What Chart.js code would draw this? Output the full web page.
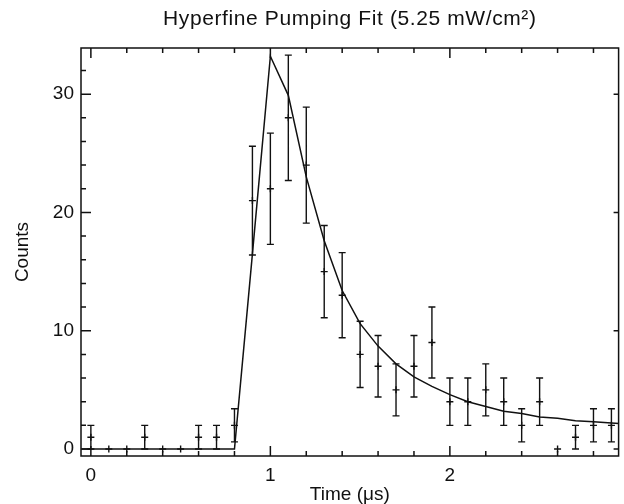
<!DOCTYPE html>
<html>
<head>
<meta charset="utf-8">
<script src="https://cdn.jsdelivr.net/npm/chart.js@4.4.0/dist/chart.umd.min.js"></script>
<style>
    body { margin: 0; background: #ffffff; }
    #caixa { width: 624px; height: 504px; }
</style>
</head>
<body>
<div id="caixa"><canvas id="graficoFit" width="624" height="504"></canvas></div>
<script>
// Dados (contagens por intervalo de tempo, em µs)
const tempos = [0.0, 0.1, 0.2, 0.3, 0.4, 0.5, 0.6, 0.7, 0.8, 0.9,
                1.0, 1.1, 1.2, 1.3, 1.4, 1.5, 1.6, 1.7, 1.8, 1.9,
                2.0, 2.1, 2.2, 2.3, 2.4, 2.5, 2.6, 2.7, 2.8, 2.9];
const contagens = [1, 0, 0, 1, 0, 0, 1, 1, 2, 21,
                   22, 28, 24, 15, 13, 8, 7, 5, 7, 9,
                   4, 4, 5, 4, 2, 4, 0, 1, 2, 2];
const erros = [1, 0, 0, 1, 0, 0, 1, 1, 1.4, 4.6,
               4.7, 5.3, 4.9, 3.9, 3.6, 2.8, 2.6, 2.2, 2.6, 3.0,
               2.0, 2.0, 2.2, 2.0, 1.4, 2.0, 0, 1, 1.4, 1.4];

// Curva do ajuste
const ajusteTempos = [-0.05, 0.8, 0.9, 1.0, 1.1, 1.2, 1.3, 1.4, 1.5, 1.6,
                      1.7, 1.8, 1.9, 2.0, 2.1, 2.2, 2.3, 2.4, 2.5, 2.6,
                      2.7, 2.8, 2.9, 2.95];
const ajusteValores = [0, 0, 16.5, 33.2, 29.9, 23.0, 17.6, 13.4, 10.6, 8.7,
                       7.2, 6.1, 5.3, 4.6, 4.0, 3.6, 3.2, 3.0, 2.7, 2.6,
                       2.4, 2.3, 2.2, 2.15];

// Marcas dos eixos
const xMarcasMaiores = [0, 1, 2];
const xMarcasMenores = [0.2, 0.4, 0.6, 0.8, 1.2, 1.4, 1.6, 1.8, 2.2, 2.4, 2.6, 2.8];
const yMarcasMaiores = [0, 10, 20, 30];
const yMarcasMenores = [2, 4, 6, 8, 12, 14, 16, 18, 22, 24, 26, 28, 32];

const titulo = 'Hyperfine Pumping Fit (5.25 mW/cm²)';
const tituloX = 'Time (μs)';
const tituloY = 'Counts';

const corTraco = '#111111';
const fonte = "'Liberation Sans', Arial, Helvetica, sans-serif";

// Plugin: moldura com marcas para dentro, barras de erro e título
const molduraPlugin = {
    id: 'moldura',
    afterDatasetsDraw: function (chart) {
        const ctx = chart.ctx;
        const sx = chart.scales.x;
        const sy = chart.scales.y;
        ctx.save();
        ctx.strokeStyle = corTraco;
        ctx.lineWidth = 1.4;
        ctx.beginPath();
        for (let i = 0; i < tempos.length; i++) {
            if (erros[i] <= 0) continue;
            let px = sx.getPixelForValue(tempos[i]);
            let topo = sy.getPixelForValue(contagens[i] + erros[i]);
            let base = sy.getPixelForValue(contagens[i] - erros[i]);
            ctx.moveTo(px, topo);
            ctx.lineTo(px, base);
            ctx.moveTo(px - 3.5, topo);
            ctx.lineTo(px + 3.5, topo);
            ctx.moveTo(px - 3.5, base);
            ctx.lineTo(px + 3.5, base);
        }
        ctx.stroke();
        ctx.restore();
    },
    afterDraw: function (chart) {
        const ctx = chart.ctx;
        const a = chart.chartArea;
        const sx = chart.scales.x;
        const sy = chart.scales.y;
        ctx.save();
        ctx.strokeStyle = corTraco;
        ctx.lineWidth = 1.5;
        ctx.strokeRect(a.left, a.top, a.right - a.left, a.bottom - a.top);

        ctx.beginPath();
        function marcaX(v, tam) {
            let px = sx.getPixelForValue(v);
            ctx.moveTo(px, a.bottom);
            ctx.lineTo(px, a.bottom - tam);
            ctx.moveTo(px, a.top);
            ctx.lineTo(px, a.top + tam);
        }
        function marcaY(v, tam, direita) {
            let py = sy.getPixelForValue(v);
            ctx.moveTo(a.left, py);
            ctx.lineTo(a.left + tam, py);
            if (direita) {
                ctx.moveTo(a.right, py);
                ctx.lineTo(a.right - 5, py);
            }
        }
        xMarcasMaiores.forEach(function (v) { marcaX(v, 10); });
        xMarcasMenores.forEach(function (v) { marcaX(v, 5); });
        yMarcasMaiores.forEach(function (v) { marcaY(v, 10, true); });
        yMarcasMenores.forEach(function (v) { marcaY(v, 5, false); });
        ctx.stroke();

        // título do gráfico (letras um pouco mais espaçadas, como no original)
        ctx.fillStyle = corTraco;
        ctx.font = '21px ' + fonte;
        ctx.letterSpacing = '0.6px';
        ctx.textAlign = 'center';
        ctx.textBaseline = 'alphabetic';
        ctx.fillText(titulo, (a.left + a.right) / 2, 25);
        ctx.restore();
    }
};

function plotarGrafico() {
    let pontos = [];
    for (let i = 0; i < tempos.length; i++) {
        pontos.push({ x: tempos[i], y: contagens[i] });
    }
    let curva = [];
    for (let i = 0; i < ajusteTempos.length; i++) {
        curva.push({ x: ajusteTempos[i], y: ajusteValores[i] });
    }

    Chart.defaults.font.family = fonte;
    Chart.defaults.color = corTraco;

    const config = {
        type: 'scatter',
        data: {
            datasets: [{
                label: 'ajuste',
                data: curva,
                showLine: true,
                borderColor: corTraco,
                borderWidth: 1.5,
                pointRadius: 0,
                tension: 0
            }, {
                label: 'dados',
                data: pontos,
                showLine: false,
                pointStyle: 'cross',
                pointRadius: 3.5,
                borderColor: corTraco,
                borderWidth: 1.4
            }]
        },
        options: {
            responsive: false,
            animation: false,
            layout: { padding: { top: 48, left: 0, right: 0, bottom: 0 } },
            plugins: {
                legend: { display: false },
                tooltip: { enabled: false }
            },
            scales: {
                x: {
                    type: 'linear',
                    min: -0.055,
                    max: 2.94,
                    grid: { display: false, drawTicks: false },
                    border: { display: false },
                    ticks: {
                        stepSize: 1,
                        includeBounds: false,
                        padding: 8,
                        maxRotation: 0,
                        font: { size: 19 },
                        color: corTraco
                    },
                    title: {
                        display: true,
                        text: tituloX,
                        font: { size: 19, lineHeight: 1 },
                        padding: 0,
                        color: corTraco
                    },
                    afterFit: function (escala) { escala.height = 48; }
                },
                y: {
                    type: 'linear',
                    min: -0.59,
                    max: 33.9,
                    grid: { display: false, drawTicks: false },
                    border: { display: false },
                    ticks: {
                        stepSize: 10,
                        includeBounds: false,
                        padding: 7,
                        font: { size: 19 },
                        color: corTraco
                    },
                    title: {
                        display: true,
                        text: tituloY,
                        font: { size: 19, lineHeight: 1 },
                        padding: { top: 13, bottom: 0 },
                        color: corTraco
                    },
                    afterFit: function (escala) { escala.width = 81; }
                }
            }
        },
        plugins: [molduraPlugin]
    };

    let meuGrafico = new Chart(document.getElementById('graficoFit'), config);
}

plotarGrafico();
</script>
</body>
</html>
